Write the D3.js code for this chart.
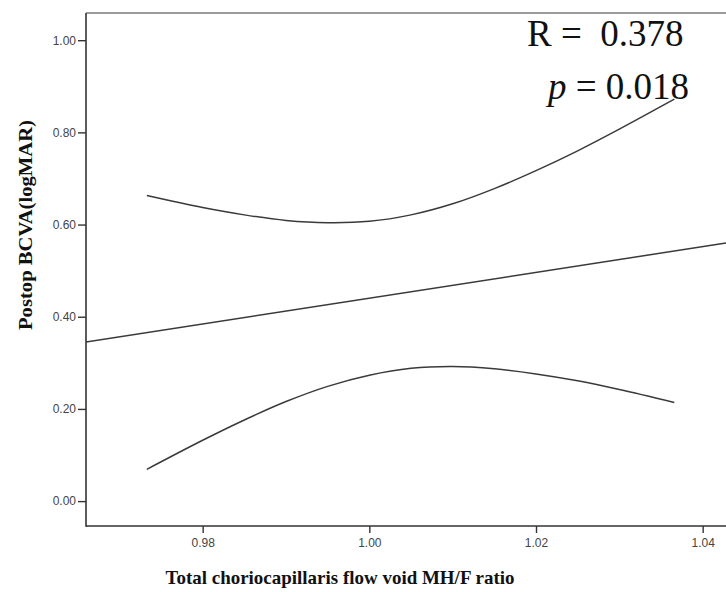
<!DOCTYPE html>
<html>
<head>
<meta charset="utf-8">
<script src="https://cdn.jsdelivr.net/npm/d3@7"></script>
<style>
  body { margin: 0; background: #fff; }
  svg { display: block; }
  .tick text { font-family: "Liberation Sans", Arial, sans-serif; font-size: 12px; fill: #444; }
  .axis-title { font-family: "Liberation Serif", serif; font-weight: bold; fill: #111; }
  .stat { font-family: "Liberation Serif", serif; fill: #111; font-size: 37px; }
</style>
</head>
<body>
<svg id="chart" width="726" height="592"></svg>
<script>
'use strict';

// Data
const fitX = [0.966, 1.0428];
const fitY = [0.345, 0.560];

const bandX = [0.9733, 0.98, 0.985, 0.99, 0.995, 1.00, 1.005, 1.01, 1.015, 1.02, 1.025, 1.03, 1.0366];
const upperY = [0.663, 0.637, 0.621, 0.609, 0.604, 0.607, 0.621, 0.645, 0.678, 0.717, 0.760, 0.807, 0.872];
const lowerY = [0.069, 0.132, 0.176, 0.216, 0.249, 0.273, 0.288, 0.292, 0.287, 0.276, 0.261, 0.242, 0.214];

const xTicks = [0.98, 1.00, 1.02, 1.04];
const yTicks = [0.00, 0.20, 0.40, 0.60, 0.80, 1.00];

const X_TITLE = 'Total choriocapillaris flow void MH/F ratio';
const Y_TITLE = 'Postop BCVA(logMAR)';

const plot = { left: 86, right: 726, top: 13, bottom: 526 };

const svg = d3.select('#chart');

const x = d3.scaleLinear()
  .domain([0.966, 1.0428])
  .range([plot.left, plot.right]);

const y = d3.scaleLinear()
  .domain([-0.054, 1.059])
  .range([plot.bottom, plot.top]);

svg.append('clipPath')
  .attr('id', 'plot-clip')
  .append('rect')
    .attr('x', plot.left)
    .attr('y', plot.top)
    .attr('width', plot.right - plot.left)
    .attr('height', plot.bottom - plot.top);

// Top frame line
svg.append('line')
  .attr('x1', plot.left).attr('x2', plot.right)
  .attr('y1', plot.top).attr('y2', plot.top)
  .attr('stroke', '#7a7a7a')
  .attr('stroke-width', 1.5);

// Axes
const yAxis = svg.append('g')
  .attr('transform', 'translate(' + plot.left + ',0)')
  .call(d3.axisLeft(y).tickValues(yTicks).tickFormat(d3.format('.2f')).tickSize(8).tickPadding(2));

const xAxis = svg.append('g')
  .attr('transform', 'translate(0,' + plot.bottom + ')')
  .call(d3.axisBottom(x).tickValues(xTicks).tickFormat(d3.format('.2f')).tickSize(7).tickPadding(5));

[yAxis, xAxis].forEach(axis => {
  axis.select('.domain').attr('stroke', '#333').attr('stroke-width', 1.6);
  axis.selectAll('.tick line').attr('stroke', '#333').attr('stroke-width', 1.4);
});
yAxis.select('.domain').attr('d', 'M0,' + plot.top + 'V' + plot.bottom + 'H1');
xAxis.select('.domain').attr('d', 'M' + plot.left + ',0H' + plot.right);

// Lines
const line = d3.line()
  .x(d => x(d[0]))
  .y(d => y(d[1]))
  .curve(d3.curveCatmullRom);

const lines = svg.append('g').attr('clip-path', 'url(#plot-clip)');

lines.append('path')
  .datum(d3.zip(fitX, fitY))
  .attr('d', line)
  .attr('fill', 'none')
  .attr('stroke', '#3a3a3a')
  .attr('stroke-width', 1.5);

[upperY, lowerY].forEach(values => {
  lines.append('path')
    .datum(d3.zip(bandX, values))
    .attr('d', line)
    .attr('fill', 'none')
    .attr('stroke', '#3a3a3a')
    .attr('stroke-width', 1.5);
});

// Axis titles
svg.append('text')
  .attr('class', 'axis-title')
  .attr('x', 340)
  .attr('y', 584)
  .attr('text-anchor', 'middle')
  .attr('textLength', 349)
  .attr('lengthAdjust', 'spacingAndGlyphs')
  .style('font-size', '19px')
  .text(X_TITLE);

svg.append('text')
  .attr('class', 'axis-title')
  .attr('transform', 'translate(32,225) rotate(-90)')
  .attr('text-anchor', 'middle')
  .attr('textLength', 210)
  .attr('lengthAdjust', 'spacingAndGlyphs')
  .style('font-size', '18px')
  .text(Y_TITLE);

// Statistics
svg.append('text')
  .attr('class', 'stat')
  .attr('x', 527)
  .attr('y', 46)
  .attr('xml:space', 'preserve')
  .text('R =  0.378');

const pText = svg.append('text')
  .attr('class', 'stat')
  .attr('x', 548)
  .attr('y', 99);
pText.append('tspan').style('font-style', 'italic').text('p');
pText.append('tspan').text(' = 0.018');
</script>
</body>
</html>
